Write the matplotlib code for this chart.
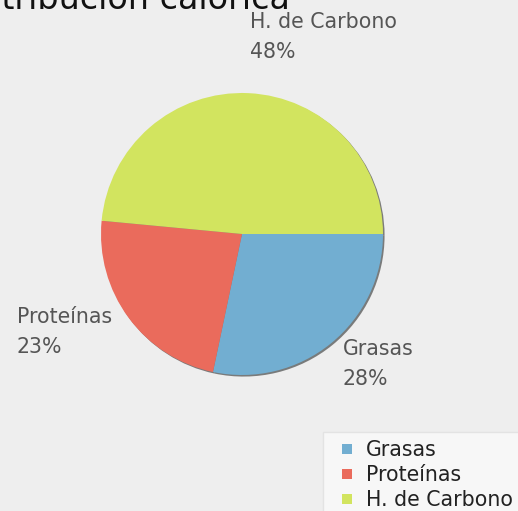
import numpy as np
import matplotlib.pyplot as plt
from matplotlib.lines import Line2D

# distribución calórica
categorias = ['Grasas', 'Proteínas', 'H. de Carbono']
valores = [28.3, 23.2, 48.5]
colores = ['#72aed1', '#ea6b5c', '#d2e45f']

# label anchors (data units, radius = 1) and alignment
pos_etiquetas = [(0.716, -0.745), (-0.922, -0.52), (0.057, 1.22)]
alin = [('left', 'top'), ('right', 'top'), ('left', 'bottom')]

W, H = 518, 511
fig = plt.figure(figsize=(W / 100, H / 100), dpi=100, facecolor='#eeeeee')

# pie centre (242, 234) px, radius 141 px
lim = 1.2
r_px = 141
side = 2 * lim * r_px
ax = fig.add_axes([(242 - side / 2) / W, (H - 234 - side / 2) / H, side / W, side / H])

wedges, _ = ax.pie(valores, colors=colores, startangle=0, counterclock=False,
                   radius=1, shadow={'ox': 0.008, 'oy': -0.008, 'shade': 0.95},
                   wedgeprops={'linewidth': 0})
ax.set_xlim(-lim, lim)
ax.set_ylim(-lim, lim)
ax.set_aspect('equal')
ax.axis('off')

total = sum(valores)
for cat, v, (x, y), (ha, va) in zip(categorias, valores, pos_etiquetas, alin):
    ax.text(x, y, f'{cat}\n{round(v / total * 100)}%', ha=ha, va=va,
            multialignment='left', fontsize=14.8, color='#555555',
            linespacing=1.6, clip_on=False)

fig.text(290 / W, 1 - 9 / H, 'Distribución calórica', ha='right', va='baseline',
         fontsize=24, color='#111111')

handles = [Line2D([], [], linestyle='none', marker='s', markersize=7,
                  markerfacecolor=c, markeredgewidth=0) for c in colores]
leg = fig.legend(handles, categorias, loc='upper left',
                 bbox_to_anchor=(323 / W, 1 - 432 / H), fontsize=14.8,
                 handlelength=1.5, handletextpad=0.2,
                 labelspacing=0.24, frameon=True, fancybox=False,
                 borderpad=0.4, borderaxespad=0, labelcolor='#222222')
leg.get_frame().set_facecolor('#fafafa')
leg.get_frame().set_edgecolor('#e0e0e0')

fig.savefig('out.png', dpi=100, facecolor=fig.get_facecolor())
